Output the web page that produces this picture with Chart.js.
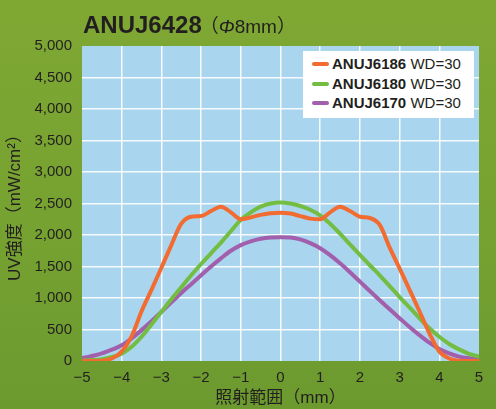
<!DOCTYPE html>
<html>
<head>
<meta charset="utf-8">
<script src="https://cdn.jsdelivr.net/npm/chart.js@4"></script>
<style>
  html, body { margin: 0; padding: 0; }
  body { width: 496px; height: 409px; overflow: hidden; }
  #wrap {
    position: relative; width: 496px; height: 409px;
    background: linear-gradient(180deg, #7fa833 0%, #76a231 55%, #6c9a2f 100%);
    font-family: "Liberation Sans", "Noto Sans CJK JP", sans-serif;
    color: #231f20;
  }
  #chart { position: absolute; left: 0; top: 0; }
  #title { position: absolute; left: 83px; top: 13px; font-size: 24px; line-height: 1; white-space: nowrap; }
  #title b { font-weight: bold; }
  #title .sub { font-size: 19px; font-weight: normal; margin-left: -2px; }
  #legend {
    position: absolute; left: 303px; top: 51px; width: 171px; height: 67px;
    background: #ffffff;
  }
  .row { position: absolute; left: 0; height: 20px; width: 171px; font-size: 15px; line-height: 20px; white-space: nowrap; }
  .row .mk { position: absolute; left: 9px; top: 8px; width: 17px; height: 4px; border-radius: 2px; }
  .row .tx { position: absolute; left: 29px; top: 0; }
</style>
</head>
<body>
<div id="wrap">
  <canvas id="chart" width="496" height="409"></canvas>
  <div id="title"><b>ANUJ6428</b><span class="sub">（<i>Φ</i>8mm）</span></div>
  <div id="legend"></div>
</div>
<script>
// x positions (mm)
const positions = [-5, -4.75, -4.5, -4.25, -4, -3.75, -3.5, -3.25, -3, -2.75, -2.5, -2.25, -2, -1.75, -1.5, -1.25, -1, -0.75, -0.5, -0.25,
  0, 0.25, 0.5, 0.75, 1, 1.25, 1.5, 1.75, 2, 2.25, 2.5, 2.75, 3, 3.25, 3.5, 3.75, 4, 4.25, 4.5, 4.75, 5];

// UV intensity (mW/cm2) per model
const anuj6186 = [0, 0, 5, 40, 150, 390, 790, 1130, 1480, 1840, 2180, 2290, 2300, 2380, 2450, 2360, 2250, 2280, 2320, 2345,
  2355, 2340, 2300, 2260, 2250, 2360, 2450, 2380, 2290, 2270, 2160, 1800, 1470, 1130, 790, 440, 150, 40, 5, 0, 0];
const anuj6180 = [5, 15, 30, 65, 115, 225, 385, 580, 780, 980, 1170, 1360, 1540, 1710, 1880, 2060, 2240, 2360, 2450, 2500,
  2515, 2500, 2460, 2400, 2310, 2180, 2020, 1850, 1685, 1520, 1360, 1190, 1015, 850, 680, 520, 385, 270, 185, 115, 70];
const anuj6170 = [45, 80, 120, 180, 250, 360, 490, 630, 780, 930, 1080, 1220, 1360, 1500, 1630, 1750, 1840, 1900, 1940, 1960,
  1965, 1960, 1930, 1870, 1790, 1680, 1550, 1410, 1260, 1110, 965, 820, 680, 540, 410, 290, 190, 120, 70, 45, 30];

const seriesNames = ['ANUJ6186', 'ANUJ6180', 'ANUJ6170'];
const seriesSuffix = ' WD=30';
const seriesColors = ['#f26b30', '#73bd43', '#a15fac'];

const yTicks = [0, 500, 1000, 1500, 2000, 2500, 3000, 3500, 4000, 4500, 5000];
const xTicks = [-5, -4, -3, -2, -1, 0, 1, 2, 3, 4, 5];

const FONT = '"Liberation Sans", "Noto Sans CJK JP", sans-serif';

function toPoints(values) {
  return values.map((v, i) => ({ x: positions[i], y: v }));
}

// fill plot area with light blue
const plotBg = {
  id: 'plotBg',
  beforeDraw(chart) {
    const { ctx, chartArea } = chart;
    ctx.save();
    ctx.fillStyle = '#a9d5ef';
    ctx.fillRect(chartArea.left, chartArea.top, chartArea.right - chartArea.left, chartArea.bottom - chartArea.top);
    ctx.restore();
  }
};

function gridColor(ctx, count) {
  if (ctx.index === 0 || ctx.index === count - 1) return 'rgba(0,0,0,0)';
  return 'rgba(255,255,255,0.9)';
}

const datasets = [anuj6186, anuj6180, anuj6170].map((vals, i) => ({
  label: seriesNames[i] + seriesSuffix,
  data: toPoints(vals),
  borderColor: seriesColors[i],
  borderWidth: 4,
  pointRadius: 0,
  fill: false,
  cubicInterpolationMode: 'monotone',
  borderCapStyle: 'round',
  borderJoinStyle: 'round'
}));

new Chart(document.getElementById('chart'), {
  type: 'line',
  data: { datasets },
  plugins: [plotBg],
  options: {
    responsive: false,
    animation: false,
    layout: { padding: { top: 46, right: 17, left: 0, bottom: 0 } },
    plugins: { legend: { display: false }, tooltip: { enabled: false } },
    scales: {
      x: {
        type: 'linear',
        min: -5,
        max: 5,
        afterBuildTicks(scale) { scale.ticks = xTicks.map(v => ({ value: v })); },
        afterFit(scale) { scale.height = 48; },
        ticks: {
          padding: 8,
          color: '#231f20',
          font: { family: FONT, size: 15 },
          callback: v => (v < 0 ? '−' + Math.abs(v) : String(v))
        },
        grid: { color: c => gridColor(c, xTicks.length), lineWidth: 1.5, drawTicks: false },
        border: { display: false },
        title: {
          display: true,
          text: '照射範囲（mm）',
          color: '#231f20',
          font: { family: FONT, size: 17 },
          padding: { top: 0, bottom: 0 }
        }
      },
      y: {
        min: 0,
        max: 5000,
        afterBuildTicks(scale) { scale.ticks = yTicks.map(v => ({ value: v })); },
        afterFit(scale) { scale.width = 82; },
        ticks: {
          padding: 10,
          color: '#231f20',
          font: { family: FONT, size: 15 },
          callback: v => v.toLocaleString('en-US')
        },
        grid: { color: c => gridColor(c, yTicks.length), lineWidth: 1.5, drawTicks: false },
        border: { display: false },
        title: {
          display: true,
          text: 'UV強度（mW/cm²）',
          color: '#231f20',
          font: { family: FONT, size: 17 },
          padding: { top: 5, bottom: 0 }
        }
      }
    }
  }
});

// legend box
const legend = document.getElementById('legend');
seriesNames.forEach((name, i) => {
  const row = document.createElement('div');
  row.className = 'row';
  row.style.top = (3 + i * 19.5) + 'px';
  row.innerHTML = '<span class="mk" style="background:' + seriesColors[i] + '"></span>' +
    '<span class="tx"><b>' + name + '</b>' + seriesSuffix + '</span>';
  legend.appendChild(row);
});
</script>
</body>
</html>
